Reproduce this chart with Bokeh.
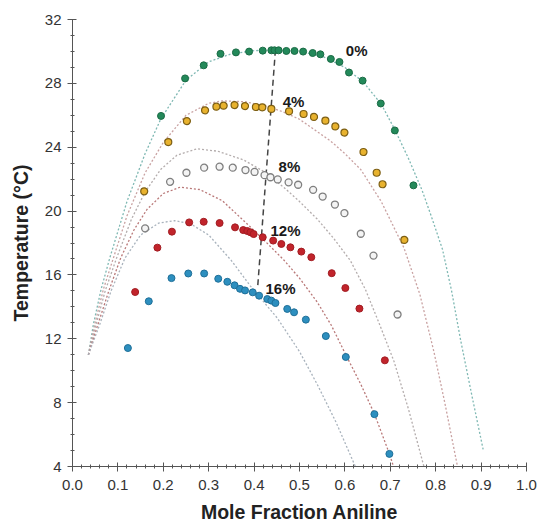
from bokeh.plotting import figure
from bokeh.models import Range1d, FixedTicker
from bokeh.core.properties import value
from bokeh.embed import file_html
from bokeh.resources import INLINE

# ---- measured data (mole fraction aniline, temperature in degC) ----
x0 = [0.195, 0.248, 0.289, 0.326, 0.360, 0.389, 0.419, 0.438, 0.445, 0.454, 0.471,
      0.489, 0.508, 0.529, 0.546, 0.569, 0.588, 0.609, 0.639, 0.679, 0.710, 0.751]
t0 = [25.96, 28.31, 29.13, 29.85, 29.94, 29.99, 30.05, 30.07, 30.07, 30.07, 30.03,
      30.03, 29.99, 29.90, 29.82, 29.53, 29.34, 28.68, 28.17, 26.74, 25.05, 21.61]

x4 = [0.158, 0.211, 0.252, 0.292, 0.317, 0.333, 0.357, 0.380, 0.404, 0.418, 0.438,
      0.477, 0.509, 0.532, 0.557, 0.579, 0.599, 0.641, 0.670, 0.683, 0.731]
t4 = [21.24, 24.32, 25.64, 26.31, 26.54, 26.60, 26.64, 26.58, 26.52, 26.50, 26.40,
      26.25, 26.08, 25.90, 25.66, 25.30, 24.92, 23.70, 22.40, 21.68, 18.19]

x8 = [0.160, 0.215, 0.251, 0.290, 0.324, 0.353, 0.381, 0.401, 0.423, 0.436, 0.452,
      0.476, 0.497, 0.530, 0.551, 0.578, 0.599, 0.635, 0.663, 0.716]
t8 = [18.92, 21.83, 22.40, 22.72, 22.78, 22.72, 22.57, 22.45, 22.25, 22.12, 21.98,
      21.80, 21.65, 21.33, 20.91, 20.41, 19.87, 18.58, 17.21, 13.52]

x12 = [0.138, 0.187, 0.219, 0.257, 0.289, 0.324, 0.358, 0.376, 0.385, 0.392, 0.399,
       0.419, 0.442, 0.460, 0.480, 0.504, 0.526, 0.571, 0.601, 0.632, 0.688]
t12 = [14.93, 17.71, 18.71, 19.29, 19.33, 19.25, 18.98, 18.81, 18.75, 18.67, 18.56,
       18.36, 18.15, 17.94, 17.73, 17.46, 17.11, 16.11, 15.18, 13.89, 10.65]

x16 = [0.122, 0.168, 0.218, 0.255, 0.290, 0.321, 0.341, 0.357, 0.369, 0.380, 0.397,
       0.411, 0.429, 0.438, 0.447, 0.473, 0.488, 0.514, 0.558, 0.602, 0.665, 0.698]
t16 = [11.42, 14.35, 15.80, 16.09, 16.09, 15.76, 15.57, 15.35, 15.13, 15.03, 14.91,
       14.70, 14.49, 14.39, 14.24, 13.87, 13.66, 13.20, 12.17, 10.86, 7.28, 4.79]

# ---- fitted curves ----
fit0_x = [0.035, 0.046, 0.063, 0.082, 0.12, 0.16, 0.195, 0.25, 0.30, 0.35, 0.40, 0.45,
          0.50, 0.55, 0.60, 0.64, 0.68, 0.71, 0.74, 0.77, 0.79, 0.815, 0.835, 0.855, 0.88, 0.905]
fit0_t = [11.0, 12.9, 15.1, 17.05, 20.6, 23.6, 25.8, 28.2, 29.35, 29.85, 30.05, 30.1,
          30.0, 29.7, 29.0, 28.1, 26.7, 25.1, 23.3, 21.3, 19.7, 17.6, 15.0, 11.9, 8.4, 5.0]

fit4_x = [0.035, 0.049, 0.068, 0.09, 0.12, 0.16, 0.20, 0.25, 0.30, 0.33, 0.38, 0.43,
          0.465, 0.50, 0.568, 0.60, 0.635, 0.68, 0.73, 0.765, 0.796, 0.82, 0.848]
fit4_t = [11.0, 12.9, 15.1, 17.05, 19.7, 22.4, 24.3, 26.0, 26.75, 26.9, 26.85, 26.55,
          26.2, 25.75, 24.4, 23.6, 22.6, 20.6, 17.7, 14.8, 11.2, 8.0, 4.0]

fit8_x = [0.035, 0.052, 0.072, 0.097, 0.13, 0.16, 0.194, 0.23, 0.274, 0.32, 0.377, 0.42,
          0.465, 0.50, 0.539, 0.575, 0.612, 0.645, 0.675, 0.708, 0.74, 0.774]
fit8_t = [11.0, 12.9, 15.0, 17.05, 19.5, 21.2, 22.6, 23.5, 23.9, 23.75, 23.2, 22.5,
          21.5, 20.6, 19.5, 18.3, 16.9, 15.1, 13.0, 10.6, 7.6, 4.0]

fit12_x = [0.035, 0.056, 0.08, 0.106, 0.135, 0.164, 0.20, 0.2375, 0.28, 0.33, 0.392, 0.43,
           0.465, 0.50, 0.539, 0.57, 0.602, 0.635, 0.665, 0.698, 0.707]
fit12_t = [11.0, 12.9, 15.0, 17.05, 18.8, 20.1, 21.1, 21.5, 21.35, 20.65, 19.0, 17.95,
           16.95, 15.8, 14.3, 12.85, 11.0, 9.15, 7.3, 4.8, 4.0]

fit16_x = [0.035, 0.06, 0.085, 0.1155, 0.15, 0.19, 0.225, 0.26, 0.30, 0.35, 0.392, 0.451,
           0.50, 0.539, 0.58, 0.623]
fit16_t = [11.0, 12.9, 15.0, 17.05, 18.5, 19.25, 19.4, 19.2, 18.5, 16.9, 15.3, 13.3,
           11.2, 9.15, 6.8, 4.0]

# critical-point guide line
crit_x = [0.447, 0.408]
crit_t = [30.1, 15.3]

# series labels
label_text = ["0%", "4%", "8%", "12%", "16%"]
label_x = [0.602, 0.463, 0.454, 0.436, 0.425]
label_t = [30.03, 26.89, 22.82, 18.77, 15.13]

x_ticks = [0.0, 0.1, 0.2, 0.3, 0.4, 0.5, 0.6, 0.7, 0.8, 0.9, 1.0]
y_ticks = [4, 8, 12, 16, 20, 24, 28, 32]

FONT = "Liberation Sans"

p = figure(width=537, height=525, output_backend="svg", toolbar_location=None,
           x_range=Range1d(0, 1), y_range=Range1d(4, 32),
           min_border_left=72, min_border_right=11, min_border_top=19, min_border_bottom=57)
p.outline_line_color = None
p.xgrid.visible = False
p.ygrid.visible = False
p.background_fill_color = "white"

# fitted dotted curves
fit_specs = [
    (fit0_x, fit0_t, "#7fb8b3"),
    (fit4_x, fit4_t, "#c9a2a2"),
    (fit8_x, fit8_t, "#b4adad"),
    (fit12_x, fit12_t, "#b97878"),
    (fit16_x, fit16_t, "#a9b3bd"),
]
for fx, ft, col in fit_specs:
    p.line(fx, ft, line_color=col, line_width=1.3, line_dash="2 2")

# critical line
p.line(crit_x, crit_t, line_color="#444444", line_width=1.5, line_dash="6 4")

# data points
p.scatter(x0, t0, size=7, fill_color="#23895a", line_color="#1a6b45", line_width=1)
p.scatter(x4, t4, size=7, fill_color="#e8b22e", line_color="#7d5f14", line_width=1.2)
p.scatter(x8, t8, size=7, fill_color="#f4f4f4", line_color="#7f7f7f", line_width=1.3)
p.scatter(x12, t12, size=7, fill_color="#c1242b", line_color="#a21d23", line_width=1)
p.scatter(x16, t16, size=7, fill_color="#2d8fbf", line_color="#1f6f98", line_width=1)

# labels
p.text(label_x, label_t, text=label_text, text_font=value(FONT), text_font_size="15px",
       text_font_style="bold", text_color="#1a1a1a", text_baseline="middle", text_align="left")

# axes
for ax in (p.xaxis[0], p.yaxis[0]):
    ax.axis_line_color = "#555555"
    ax.major_tick_line_color = "#555555"
    ax.minor_tick_line_color = "#555555"
    ax.major_tick_in = 4
    ax.major_tick_out = 5
    ax.minor_tick_in = 2
    ax.minor_tick_out = 2
    ax.major_label_text_font = FONT
    ax.major_label_text_font_size = "15px"
    ax.major_label_text_color = "#333333"
    ax.axis_label_text_font = FONT
    ax.axis_label_text_font_size = "19.5px"
    ax.axis_label_text_font_style = "bold"
    ax.axis_label_text_color = "#222222"

p.xaxis.ticker = FixedTicker(ticks=x_ticks, minor_ticks=[i / 50 for i in range(51)])
p.yaxis.ticker = FixedTicker(ticks=y_ticks, minor_ticks=list(range(4, 33)))
p.xaxis.major_label_overrides = {t: f"{t:.1f}" for t in x_ticks}
p.xaxis.axis_label = "Mole Fraction Aniline"
p.yaxis.axis_label = "Temperature (°C)"
p.xaxis.major_label_standoff = 8
p.xaxis.axis_label_standoff = 8
p.yaxis.major_label_standoff = 6
p.yaxis.axis_label_standoff = 10

open("out.html", "w").write(file_html(p, INLINE))
